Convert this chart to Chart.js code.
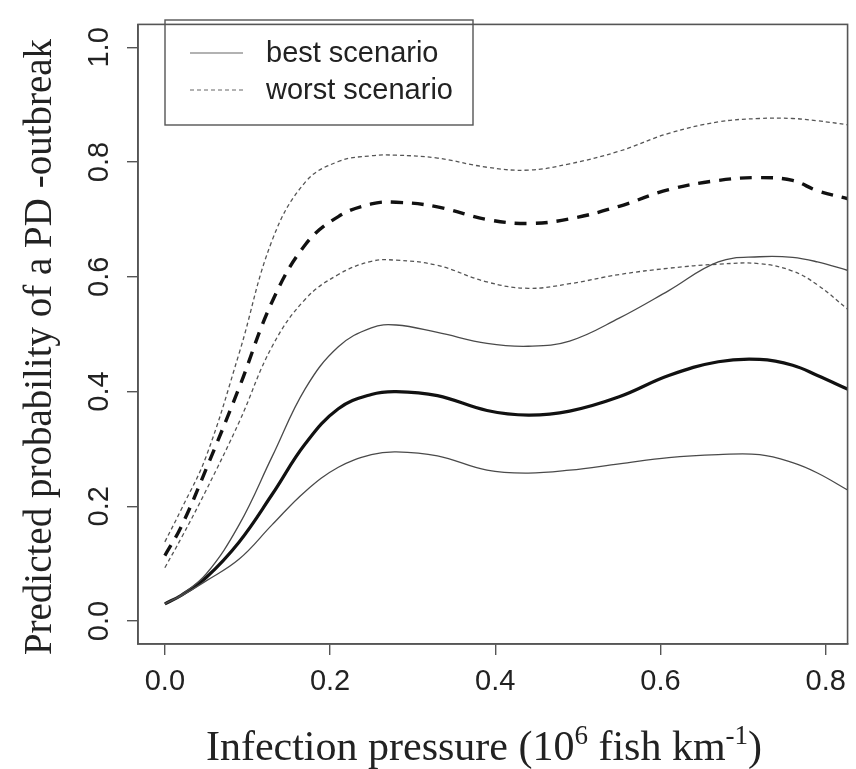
<!DOCTYPE html>
<html>
<head>
<meta charset="utf-8">
<script src="https://cdn.jsdelivr.net/npm/chart.js@4/dist/chart.umd.min.js"></script>
<style>
  html, body { margin: 0; padding: 0; background: #fff; }
  #wrap { width: 856px; height: 769px; position: relative; }
</style>
</head>
<body>
<div id="wrap"><canvas id="c" width="856" height="769"></canvas></div>
<script>
// Infection pressure (10^6 fish km^-1)
const pressure = [0, 0.02, 0.05, 0.09, 0.13, 0.17, 0.21, 0.25, 0.28, 0.33, 0.39, 0.44, 0.49, 0.55, 0.61, 0.67, 0.72, 0.76, 0.79, 0.827];

// Best scenario: fitted probability and confidence bounds
const bestMean  = [0.030, 0.045, 0.076, 0.138, 0.221, 0.309, 0.370, 0.395, 0.400, 0.393, 0.367, 0.359, 0.366, 0.391, 0.428, 0.452, 0.456, 0.446, 0.428, 0.404];
const bestUpper = [0.030, 0.046, 0.082, 0.168, 0.287, 0.405, 0.478, 0.511, 0.516, 0.503, 0.484, 0.479, 0.488, 0.528, 0.576, 0.626, 0.635, 0.634, 0.626, 0.611];
const bestLower = [0.030, 0.044, 0.070, 0.108, 0.168, 0.226, 0.268, 0.290, 0.295, 0.288, 0.263, 0.258, 0.263, 0.274, 0.285, 0.290, 0.290, 0.276, 0.258, 0.228];

// Worst scenario: fitted probability and confidence bounds
const worstMean  = [0.114, 0.165, 0.265, 0.407, 0.557, 0.656, 0.705, 0.727, 0.730, 0.722, 0.700, 0.693, 0.701, 0.723, 0.752, 0.768, 0.773, 0.768, 0.750, 0.736];
const worstUpper = [0.138, 0.195, 0.287, 0.467, 0.664, 0.765, 0.801, 0.811, 0.812, 0.807, 0.791, 0.786, 0.797, 0.819, 0.850, 0.870, 0.876, 0.876, 0.872, 0.865];
const worstLower = [0.093, 0.145, 0.228, 0.347, 0.479, 0.561, 0.604, 0.627, 0.629, 0.620, 0.591, 0.580, 0.588, 0.604, 0.615, 0.622, 0.623, 0.610, 0.586, 0.543];

const xTicks = [0, 0.2, 0.4, 0.6, 0.8];
const yTicks = [0, 0.2, 0.4, 0.6, 0.8, 1.0];

const legendLabels = ['best scenario', 'worst scenario'];
const yTitle = 'Predicted probability of a PD -outbreak';

const pts = arr => arr.map((v, i) => ({ x: pressure[i], y: v }));

function ds(label, arr, color, width, dash) {
  return {
    label, data: pts(arr), borderColor: color, borderWidth: width,
    borderDash: dash, pointRadius: 0, fill: false,
    tension: 0.4, borderCapStyle: 'butt'
  };
}

const datasets = [
  ds('best upper', bestUpper, '#4a4a4a', 1.3, []),
  ds('best lower', bestLower, '#4a4a4a', 1.3, []),
  ds('best', bestMean, '#111', 3.2, []),
  ds('worst upper', worstUpper, '#555', 1.3, [4, 3]),
  ds('worst lower', worstLower, '#555', 1.3, [4, 3]),
  ds('worst', worstMean, '#111', 3.4, [12, 9])
];

const decor = {
  id: 'decor',
  afterDatasetsDraw(chart) {
    const { ctx, chartArea: a } = chart;
    ctx.save();
    // plot box
    ctx.strokeStyle = '#555';
    ctx.lineWidth = 1.6;
    ctx.strokeRect(a.left, a.top, a.right - a.left, a.bottom - a.top);
    // legend box
    ctx.lineWidth = 1.4;
    ctx.strokeStyle = '#555';
    ctx.strokeRect(165, 20, 308, 105);
    ctx.lineWidth = 1.2;
    ctx.strokeStyle = '#666';
    ctx.beginPath(); ctx.moveTo(190, 53); ctx.lineTo(243, 53); ctx.stroke();
    ctx.setLineDash([4, 3]);
    ctx.beginPath(); ctx.moveTo(190, 90); ctx.lineTo(243, 90); ctx.stroke();
    ctx.setLineDash([]);
    ctx.fillStyle = '#222';
    ctx.font = '29px "Liberation Sans", Arial, sans-serif';
    ctx.textBaseline = 'middle';
    ctx.textAlign = 'left';
    ctx.fillText(legendLabels[0], 266, 54);
    ctx.fillText(legendLabels[1], 266, 91);
    // y title
    ctx.save();
    ctx.translate(51, 347);
    ctx.rotate(-Math.PI / 2);
    ctx.textAlign = 'center';
    ctx.textBaseline = 'alphabetic';
    ctx.font = '39px "Liberation Serif", "Times New Roman", serif';
    ctx.fillStyle = '#222';
    ctx.fillText(yTitle, 0, 0);
    ctx.restore();
    // x title with superscripts
    const serif = '"Liberation Serif", "Times New Roman", serif';
    const parts = [
      ['Infection pressure (10', 42, 0],
      ['6', 27, -16],
      [' fish km', 42, 0],
      ['-1', 27, -16],
      [')', 42, 0]
    ];
    let total = 0;
    parts.forEach(p => { ctx.font = p[1] + 'px ' + serif; total += ctx.measureText(p[0]).width; });
    let x = 484 - total / 2;
    const base = 760;
    ctx.textAlign = 'left';
    ctx.textBaseline = 'alphabetic';
    parts.forEach(p => {
      ctx.font = p[1] + 'px ' + serif;
      ctx.fillText(p[0], x, base + p[2]);
      x += ctx.measureText(p[0]).width;
    });
    ctx.restore();
  }
};

new Chart(document.getElementById('c'), {
  type: 'line',
  data: { datasets },
  options: {
    responsive: false,
    animation: false,
    layout: { padding: { top: 8, right: 5, left: 0, bottom: 0 } },
    plugins: { legend: { display: false }, tooltip: { enabled: false } },
    scales: {
      x: {
        type: 'linear', min: -0.0325, max: 0.8265,
        afterBuildTicks: s => { s.ticks = xTicks.map(v => ({ value: v })); },
        afterFit: s => { s.height = 125; },
        grid: { display: true, drawOnChartArea: false, drawTicks: true, tickLength: 11, color: '#555', lineWidth: 1.4 },
        border: { display: true, color: '#555', width: 1.6 },
        ticks: {
          color: '#222', padding: 10, maxRotation: 0, minRotation: 0,
          font: { family: '"Liberation Sans", Arial, sans-serif', size: 29 },
          callback: v => v.toFixed(1)
        }
      },
      y: {
        type: 'linear', min: -0.04, max: 1.04,
        afterBuildTicks: s => { s.ticks = yTicks.map(v => ({ value: v })); },
        afterFit: s => { s.width = 138; },
        grid: { display: true, drawOnChartArea: false, drawTicks: true, tickLength: 11, color: '#555', lineWidth: 1.4 },
        border: { display: true, color: '#555', width: 1.6 },
        ticks: {
          color: '#222', padding: 7, minRotation: 90, maxRotation: 90, crossAlign: 'center',
          font: { family: '"Liberation Sans", Arial, sans-serif', size: 29 },
          callback: v => v.toFixed(1)
        }
      }
    }
  },
  plugins: [decor]
});
</script>
</body>
</html>
